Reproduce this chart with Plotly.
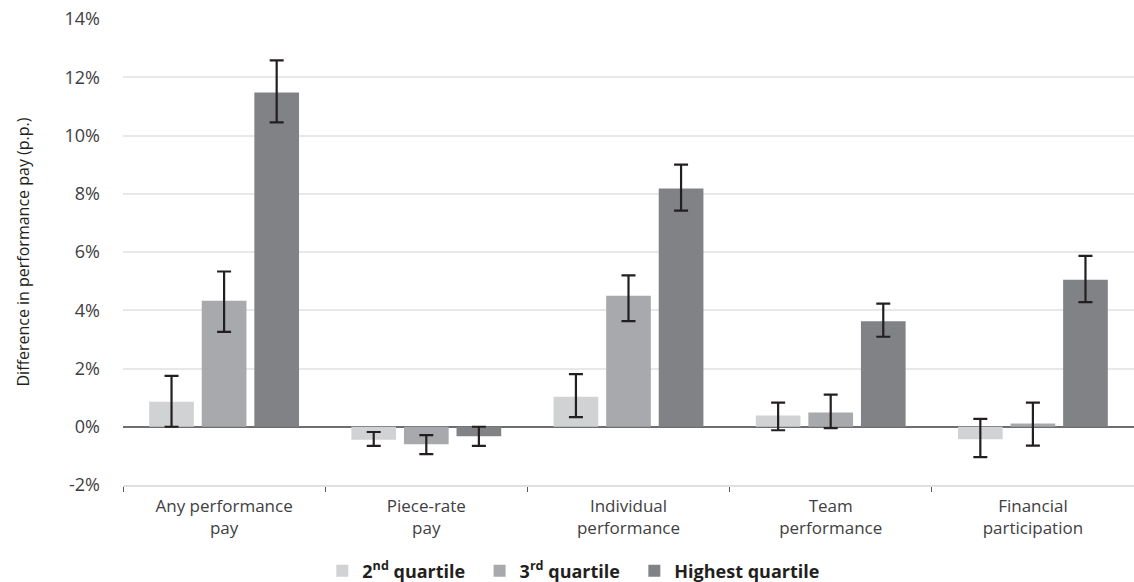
import plotly.graph_objects as go

categories = ["Any performance<br>pay", "Piece-rate<br>pay", "Individual<br>performance",
              "Team<br>performance", "Financial<br>participation"]
series_names = ["<b>2<sup>nd</sup> quartile</b>&nbsp;&nbsp;",
                "<b>3<sup>rd</sup> quartile</b>&nbsp;&nbsp;",
                "<b>Highest quartile</b>"]

q2_vals = [0.86, -0.45, 1.03, 0.39, -0.43]
q2_hi = [1.75, -0.18, 1.81, 0.83, 0.27]
q2_lo = [0.00, -0.66, 0.33, -0.12, -1.04]

q3_vals = [4.33, -0.60, 4.50, 0.49, 0.11]
q3_hi = [5.33, -0.29, 5.20, 1.10, 0.83]
q3_lo = [3.26, -0.94, 3.63, -0.05, -0.65]

q4_vals = [11.48, -0.33, 8.18, 3.62, 5.05]
q4_hi = [12.58, 0.00, 9.00, 4.23, 5.87]
q4_lo = [10.45, -0.66, 7.42, 3.09, 4.28]

y_ticks = [-2, 0, 2, 4, 6, 8, 10, 12, 14]
y_tick_labels = ["-2%", "0%", "2%", "4%", "6%", "8%", "10%", "12%", "14%"]

colors = ["#d1d2d4", "#a7a9ac", "#808285"]

fig = go.Figure()
for name, vals, hi, lo, col in zip(series_names,
                                   [q2_vals, q3_vals, q4_vals],
                                   [q2_hi, q3_hi, q4_hi],
                                   [q2_lo, q3_lo, q4_lo],
                                   colors):
    fig.add_trace(go.Bar(
        x=categories, y=vals, name=name, marker_color=col, marker_line_width=0,
        error_y=dict(type="data", symmetric=False,
                     array=[h - v for h, v in zip(hi, vals)],
                     arrayminus=[v - l for v, l in zip(vals, lo)],
                     color="#231f20", thickness=2.2, width=7),
    ))

font_family = "Open Sans, Noto Sans, sans-serif"
fig.update_layout(
    width=1134, height=582, autosize=False,
    margin=dict(l=123, r=0, t=19, b=97),
    paper_bgcolor="white", plot_bgcolor="white",
    barmode="group", bargap=0.22, bargroupgap=0.15,
    font=dict(family=font_family, size=16, color="#414042"),
    showlegend=True,
    legend=dict(orientation="h", xref="container", yref="container",
                x=0.506, xanchor="center", y=0.019, yanchor="middle",
                font=dict(size=18, color="#231f20"), itemwidth=30,
                traceorder="normal"),
    xaxis=dict(
        tickson="boundaries", ticks="outside", ticklen=5, tickcolor="#58595b",
        tickwidth=1, showline=True, linecolor="#e0e0e0", linewidth=1.5,
        showgrid=False, tickfont=dict(size=17, color="#414042"),
        ticklabelstandoff=5,
        fixedrange=True, automargin=False,
    ),
    yaxis=dict(
        range=[-2, 14], tickvals=y_ticks, ticktext=y_tick_labels,
        showgrid=True, gridcolor="#e8e8e8", gridwidth=1.5,
        zeroline=True, zerolinecolor="#6d6e71", zerolinewidth=1.5,
        tickfont=dict(size=18, color="#414042"), ticklabelstandoff=22,
        title=dict(text="Difference in performance pay (p.p.)",
                   font=dict(size=16, color="#231f20"), standoff=30),
        fixedrange=True, automargin=False,
    ),
)

post = ("document.body.style.margin='0';"
        "var gd=document.getElementById('{plot_id}');"
        "Plotly.relayout(gd,{width:1134,height:582});")
fig.write_html("out.html", post_script=post, config={"displayModeBar": False})
